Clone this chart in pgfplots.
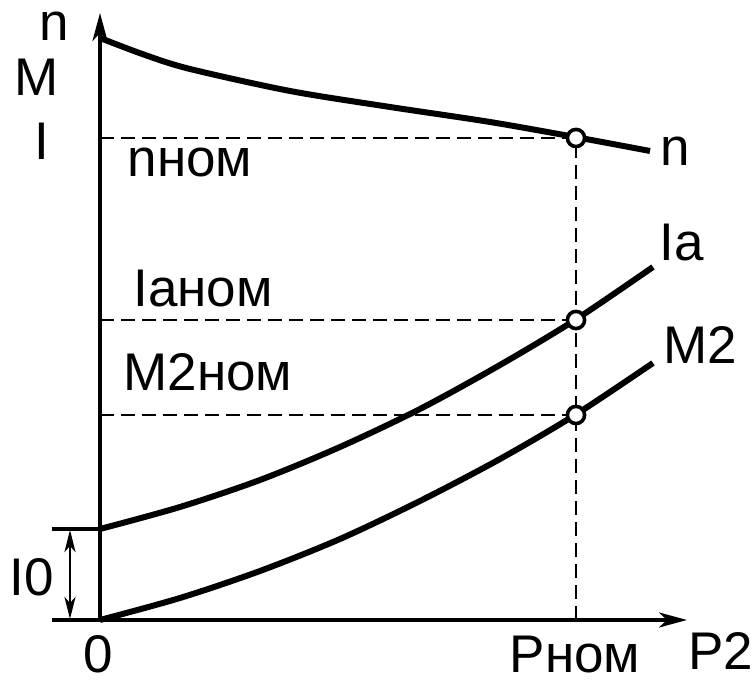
\documentclass[border=0pt]{standalone}
\usepackage{fontspec}
\setmainfont{Liberation Sans}
\usepackage{pgfplots}
\pgfplotsset{compat=1.18}
\usetikzlibrary{arrows.meta}

% curves (x = P2, y = n / Ia / M2, picture units)
\begin{document}
\begin{tikzpicture}[
  lbl/.style={font=\fontsize{26.5}{30}\selectfont, inner sep=0pt, anchor=center},
  ax/.style={line width=1.8pt, -{Stealth[length=14pt,width=7.5pt,inset=4pt]}},
  guide/.style={line width=1.2pt, dash pattern=on 7pt off 3.5pt},
]
\begin{axis}[
  x=0.5pt, y=0.5pt,
  xmin=-100, xmax=656, ymin=-63, ymax=620,
  hide axis, clip=false,
]
\path (axis cs:-100,-63) rectangle (axis cs:656,620);

% dashed guides
\draw[guide] (axis cs:0,482) -- (axis cs:475,482);
\draw[guide] (axis cs:0,300) -- (axis cs:475,300);
\draw[guide] (axis cs:0,205) -- (axis cs:475,205);
\draw[guide] (axis cs:476,0) -- (axis cs:476,482);

% axes
\draw[ax] (axis cs:-48,0) -- (axis cs:587,0);
\draw[ax] (axis cs:0,0) -- (axis cs:0,607);

% I0
\draw[line width=1.8pt] (axis cs:-48,91) -- (axis cs:0,91);
\draw[line width=1.4pt, {Stealth[length=11pt,width=5.5pt,inset=3pt]}-{Stealth[length=11pt,width=5.5pt,inset=3pt]}]
  (axis cs:-30,1) -- (axis cs:-30,90);

% n
\addplot[black, line width=3pt, smooth] coordinates {
  (0,582) (45,565) (90,551) (190,529) (290,513) (390,498) (475,483) (550,469)};
% Ia
\addplot[black, line width=3pt, smooth] coordinates {
  (0,91) (80,113) (160,140) (240,173) (320,211) (400,255) (475,300) (553,353)};
% M2
\addplot[black, line width=3pt, smooth] coordinates {
  (0,0) (80,22) (160,49) (240,81) (320,119) (400,161) (475,205) (553,257)};

% rated points
\addplot[only marks, mark=*, mark size=4.3pt,
  mark options={fill=white, draw=black, line width=1.8pt}] coordinates {
  (476,482) (476,300) (476,205)};

% labels
\node[lbl] at (axis cs:-46,594) {n};
\node[lbl] at (axis cs:-63,543) {M};
\node[lbl] at (axis cs:-58,479) {I};
\node[lbl] at (axis cs:90,457) {nном};
\node[lbl] at (axis cs:103,331) {Iaном};
\node[lbl] at (axis cs:108,248) {M2ном};
\node[lbl] at (axis cs:575,469) {n};
\node[lbl] at (axis cs:582,377) {Ia};
\node[lbl] at (axis cs:600,275) {M2};
\node[lbl] at (axis cs:-68,43) {I0};
\node[lbl] at (axis cs:-2,-34) {0};
\node[lbl] at (axis cs:475,-35) {Pном};
\node[lbl] at (axis cs:621,-31) {P2};
\end{axis}
\end{tikzpicture}
\end{document}
